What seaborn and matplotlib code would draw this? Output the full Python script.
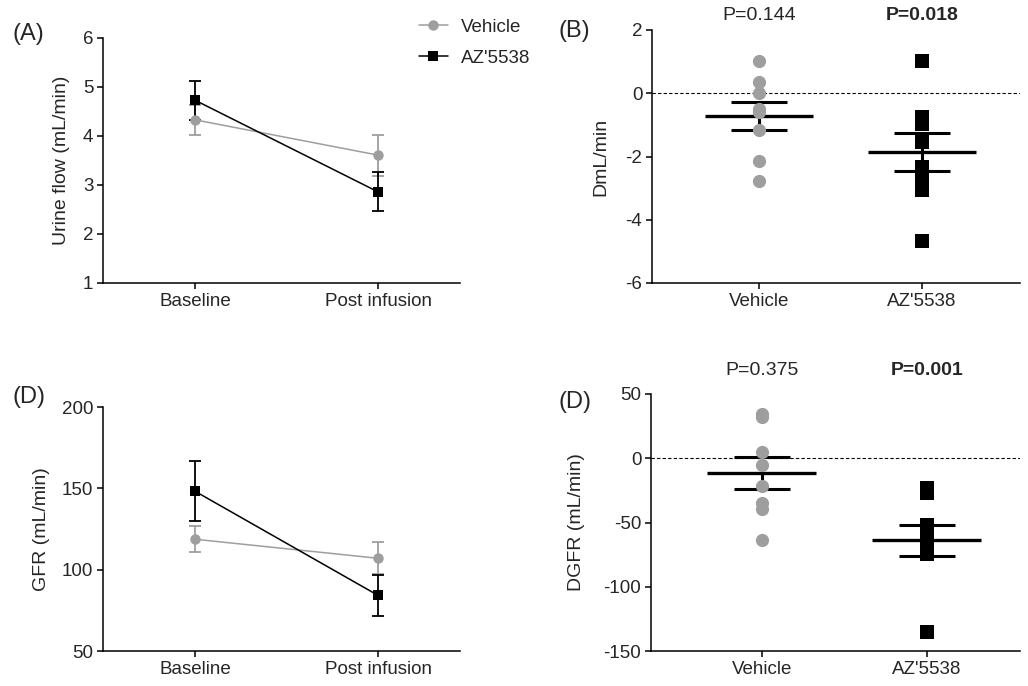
import numpy as np
import pandas as pd
import matplotlib
matplotlib.use("Agg")
import matplotlib.pyplot as plt
import seaborn as sns

# ---------------- data ----------------
groups = ["Vehicle", "AZ'5538"]
timepoints = ["Baseline", "Post infusion"]

# (A) urine flow, mean and SEM
flow_vehicle_mean = [4.33, 3.61]
flow_vehicle_sem = [0.31, 0.42]
flow_az_mean = [4.73, 2.86]
flow_az_sem = [0.40, 0.40]

# (B) change in urine flow, individual animals
dflow_vehicle = [1.02, 0.35, 0.0, -0.50, -0.60, -1.16, -2.13, -2.77]
dflow_az = [1.02, -0.74, -0.97, -1.53, -2.32, -2.64, -3.06, -4.67]
p_flow = ["P=0.144", "P=0.018"]

# (D) GFR, mean and SEM
gfr_vehicle_mean = [118.7, 107.0]
gfr_vehicle_sem = [8.0, 9.8]
gfr_az_mean = [148.2, 84.2]
gfr_az_sem = [18.3, 12.8]

# (D) change in GFR, individual animals
dgfr_vehicle = [34.4, 31.8, 5.1, -5.3, -21.6, -34.5, -39.5, -63.3]
dgfr_az = [-22.8, -27.0, -52.3, -62.0, -68.0, -70.0, -74.5, -135.0]
p_gfr = ["P=0.375", "P=0.001"]

# ---------------- style ----------------
sns.set_style("ticks")
plt.rcParams["font.family"] = ["Liberation Sans", "DejaVu Sans"]
plt.rcParams["axes.unicode_minus"] = False
GRAY = "#9e9e9e"
BLACK = "#000000"
palette = {groups[0]: GRAY, groups[1]: BLACK}
markers = {groups[0]: "o", groups[1]: "s"}
TICK_FS = 13.5

W, H = 1028, 686
fig = plt.figure(figsize=(W / 100, H / 100), dpi=100)


def px_axes(left, top, right, bottom):
    return fig.add_axes([left / W, 1 - bottom / H, (right - left) / W, (bottom - top) / H])


axA = px_axes(103, 38, 460, 283)
axB = px_axes(652, 30, 1020, 283)
axC = px_axes(103, 407, 460, 651)
axD = px_axes(651, 394, 1020, 651)


def style_axes(ax):
    sns.despine(ax=ax)
    for s in ["left", "bottom"]:
        ax.spines[s].set_linewidth(1.1)
        ax.spines[s].set_color("black")
    ax.tick_params(labelsize=TICK_FS, width=1.1, length=4, color="black", pad=3)


def line_panel(ax, v_mean, v_sem, a_mean, a_sem, ylim, yticks, ylabel, legend):
    xs = list(range(len(timepoints)))
    df = pd.DataFrame({
        "x": xs + xs,
        "y": list(v_mean) + list(a_mean),
        "group": [groups[0]] * len(xs) + [groups[1]] * len(xs),
    })
    for g, m, s in [(groups[0], v_mean, v_sem), (groups[1], a_mean, a_sem)]:
        ax.errorbar(xs, m, yerr=s, fmt="none", ecolor=palette[g], elinewidth=1.3,
                    capsize=4, capthick=1.3, zorder=3 if g == groups[1] else 2)
    sns.lineplot(data=df, x="x", y="y", hue="group", style="group", markers=markers,
                 dashes=False, palette=palette, markersize=7.5, markeredgewidth=0,
                 linewidth=1.1, ax=ax, legend=legend, zorder=4)
    ax.set_xlim(-0.503, 1.448)
    ax.set_ylim(*ylim)
    ax.set_yticks(yticks)
    ax.set_xticks(xs)
    ax.set_xticklabels(timepoints)
    ax.set_xlabel("")
    ax.set_ylabel(ylabel, fontsize=14)
    style_axes(ax)


def scatter_panel(ax, vals_v, vals_a, ylim, yticks, ylabel, pvals, p_y):
    for g, vals in [(groups[0], vals_v), (groups[1], vals_a)]:
        sns.stripplot(x=[g] * len(vals), y=vals, order=groups, jitter=False,
                      color=palette[g], marker=markers[g], size=9.5, linewidth=0,
                      ax=ax, zorder=4)
    for i, vals in enumerate([vals_v, vals_a]):
        arr = np.asarray(vals, dtype=float)
        mean = arr.mean()
        sem = arr.std(ddof=1) / np.sqrt(len(arr))
        ax.hlines(mean, i - 0.33, i + 0.33, color="black", lw=2.4, zorder=3)
        ax.hlines([mean - sem, mean + sem], i - 0.17, i + 0.17, color="black", lw=2.2, zorder=3)
        ax.vlines(i, mean - sem, mean + sem, color="black", lw=2.2, zorder=3)
    ax.axhline(0, color="black", lw=0.8, ls=(0, (3, 2)), zorder=1)
    ax.set_ylim(*ylim)
    ax.set_yticks(yticks)
    ax.set_xlabel("")
    ax.set_ylabel(ylabel, fontsize=14)
    style_axes(ax)
    trans = ax.get_xaxis_transform()
    for i, p in enumerate(pvals):
        ax.text(i, p_y, p, transform=trans, ha="center", va="center", fontsize=14,
                fontweight="bold" if i == 1 else "normal")


line_panel(axA, flow_vehicle_mean, flow_vehicle_sem, flow_az_mean, flow_az_sem,
           (1, 6), [1, 2, 3, 4, 5, 6], "Urine flow (mL/min)", True)
line_panel(axC, gfr_vehicle_mean, gfr_vehicle_sem, gfr_az_mean, gfr_az_sem,
           (50, 200), [50, 100, 150, 200], "GFR (mL/min)", False)

scatter_panel(axB, dflow_vehicle, dflow_az, (-6, 2), [-6, -4, -2, 0, 2],
              "DmL/min", p_flow, 1.059)
axB.set_xlim(-0.656, 1.60)
scatter_panel(axD, dgfr_vehicle, dgfr_az, (-150, 50), [-150, -100, -50, 0, 50],
              "DGFR (mL/min)", p_gfr, 1.093)
axD.set_xlim(-0.67, 1.565)

# y label positions (axes coords)
axA.yaxis.set_label_coords(-0.092, 0.5)
axB.yaxis.set_label_coords(-0.117, 0.5)
axC.yaxis.set_label_coords(-0.148, 0.5)
axD.yaxis.set_label_coords(-0.179, 0.5)

# legend
handles, labels = axA.get_legend_handles_labels()
if axA.get_legend() is not None:
    axA.get_legend().remove()
fig.legend(handles, labels, loc="upper left", bbox_to_anchor=(410 / W, 1 - 9 / H),
           frameon=False, fontsize=13.5, borderpad=0, handlelength=1.5,
           handletextpad=0.7, labelspacing=0.75)

# panel labels
for txt, x, y in [("(A)", 12, 34), ("(B)", 558, 31), ("(D)", 12, 397), ("(D)", 558, 402)]:
    fig.text(x / W, 1 - y / H, txt, fontsize=17, ha="left", va="center")

fig.savefig("out.png", dpi=100)
